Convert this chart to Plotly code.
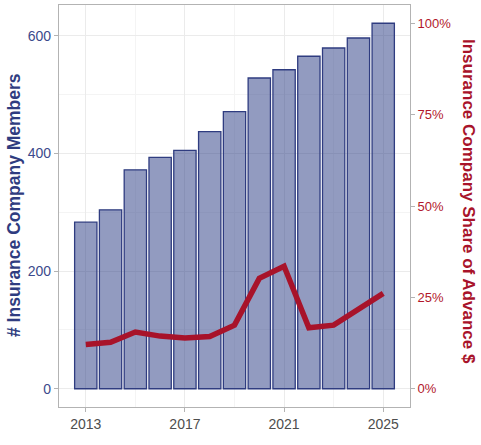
import plotly.graph_objects as go

years = [2013, 2014, 2015, 2016, 2017, 2018, 2019, 2020, 2021, 2022, 2023, 2024, 2025]
members = [283, 304, 372, 393, 405, 437, 471, 528, 542, 565, 579, 596, 621]
share_pct = [12.1, 12.7, 15.5, 14.4, 13.9, 14.3, 17.4, 30.2, 33.5, 16.7, 17.4, 21.6, 26.1]

left_ticks = [0, 200, 400, 600]
right_ticks = [0, 0.25, 0.5, 0.75, 1.0]
x_ticks = [2013, 2017, 2021, 2025]

NAVY = "#2f3c80"
NAVY_TXT = "#3b4a8c"
RED = "#a8132a"
RED_TXT = "#b2182b"
FONT = "Liberation Sans, Arial, sans-serif"

maxm = max(members)
share_frac = [p / 100 for p in share_pct]

fig = go.Figure()
fig.add_trace(go.Bar(
    x=years, y=members, width=0.9,
    marker=dict(color="rgba(37,56,130,0.5)", line=dict(color=NAVY, width=1.3)),
    yaxis="y", showlegend=False,
))
fig.add_trace(go.Scatter(
    x=years, y=share_frac, mode="lines",
    line=dict(color=RED, width=5.5),
    yaxis="y2", showlegend=False,
))

fig.update_layout(
    width=481, height=445,
    margin=dict(l=59, r=71, t=5, b=38),
    plot_bgcolor="white", paper_bgcolor="white",
    font=dict(family=FONT),
    xaxis=dict(
        range=[years[0] - 1.08, years[-1] + 1.08],
        tickvals=x_ticks, ticktext=[str(v) for v in x_ticks],
        tickfont=dict(size=14, color="#4d4d4d"),
        showgrid=True, gridcolor="#ebebeb", gridwidth=1,
        minor=dict(tickvals=[2015, 2019, 2023], showgrid=True, gridcolor="#f4f4f4", gridwidth=1),
        ticks="outside", ticklen=4, tickcolor="#b3b3b3",
        showline=True, linecolor="#b3b3b3", linewidth=1.2, mirror=True,
        zeroline=False,
    ),
    yaxis=dict(
        range=[-0.05 * maxm, 1.05 * maxm],
        tickvals=left_ticks, ticktext=[str(v) for v in left_ticks],
        tickfont=dict(size=14, color=NAVY_TXT),
        showgrid=True, gridcolor="#ebebeb", gridwidth=1,
        minor=dict(tickvals=[100, 300, 500], showgrid=True, gridcolor="#f4f4f4", gridwidth=1),
        ticks="outside", ticklen=4, tickcolor="#b3b3b3",
        showline=True, linecolor="#b3b3b3", linewidth=1.2, mirror=True,
        zeroline=False,
    ),
    yaxis2=dict(
        overlaying="y", side="right",
        range=[-0.05, 1.05],
        tickvals=right_ticks, ticktext=[f"{int(v*100)}%" for v in right_ticks],
        tickfont=dict(size=13, color=RED_TXT),
        showgrid=False, zeroline=False,
        ticks="outside", ticklen=4, tickcolor="#b3b3b3",
    ),
    annotations=[
        dict(text="<b># Insurance Company Members</b>", x=0, y=0.5, xref="paper", yref="paper",
             xanchor="center", yanchor="middle", textangle=-90, showarrow=False,
             font=dict(size=17.5, color=NAVY)),
        dict(text="<b>Insurance Company Share of Advance $</b>", x=1, y=0.5, xref="paper", yref="paper",
             xanchor="center", yanchor="middle", textangle=90, showarrow=False,
             font=dict(size=17, color=RED)),
    ],
)
pw = 481 - 59 - 71
ph = 445 - 5 - 38
fig.layout.annotations[0].x = (14 - 59) / pw
fig.layout.annotations[1].x = (469 - 59) / pw
fig.layout.annotations[0].y = (445 - 38 - 205) / ph
fig.layout.annotations[1].y = (445 - 38 - 201) / ph

fig.write_html("out.html")
